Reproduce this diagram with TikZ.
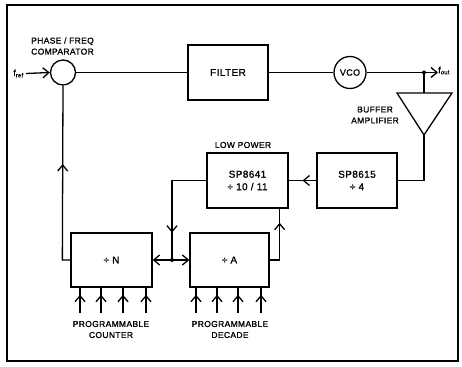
\documentclass[tikz,border=0pt]{standalone}
\usepackage{fontspec}
\setmainfont{Liberation Sans}[LetterSpace=4,FakeBold=1.2,AutoFakeBold=1.2]
\usetikzlibrary{arrows.meta,decorations.markings}
\tikzset{
  ln/.style={line width=1.3pt},
  blk/.style={draw,line width=1.3pt,rectangle,minimum width=80pt,minimum height=55pt,inner sep=0pt,font=\fontsize{10}{12.5}\selectfont,align=center},
  circ/.style={draw,line width=1.3pt,circle,inner sep=0pt,font=\fontsize{9}{10}\selectfont},
  lbl/.style={font=\fontsize{8.5}{11}\selectfont,align=center,inner sep=0pt},
  tip/.style={-{Straight Barb[length=6pt,width=10pt,line width=1.3pt]}},
  midarrow/.style={postaction={decorate},decoration={markings,mark=at position #1 with {\arrow{Straight Barb[length=6pt,width=10pt,line width=1.3pt]}}}},
  dotnode/.style={circle,fill,inner sep=0pt,minimum size=4pt}
}
\begin{document}
\begin{tikzpicture}[x=1pt,y=-1pt]
\useasboundingbox (0,0) rectangle (462,366);
\draw[line width=1.6pt] (7,5) rectangle (458,361);
% main row
\node[circ,minimum size=25pt] (cmp) at (63,72.5) {};
\node[blk] (filter) at (228,72.5) {FILTER};
\node[circ,minimum size=32pt] (vco) at (350,72.5) {VCO};
\coordinate (outj) at (424,72.5);
\node[lbl,anchor=west,font=\fontsize{9}{11}\selectfont] (fout) at (438,70.5) {f\textsubscript{out}};
\node[lbl,anchor=east,font=\fontsize{9}{11}\selectfont] (fref) at (24,73.5) {f\textsubscript{ref}};
\node[lbl] (cmplbl) at (62.5,46) {PHASE / FREQ\\COMPARATOR};
% buffer amplifier
\coordinate (bufL) at (397,93);
\coordinate (bufR) at (452,93);
\coordinate (bufT) at (424,93);
\coordinate (bufA) at (424,135);
\draw[ln,line join=miter] (bufL) -- (bufR) -- (bufA) -- cycle;
\node[lbl] (buflbl) at (375,115) {BUFFER\\AMPLIFIER};
% dividers
\node[blk] (sp15) at (357,180.5) {SP8615\\÷ 4};
\node[blk,minimum width=81pt] (sp41) at (247.5,180.5) {SP8641\\÷ 10 / 11};
\node[lbl] (lowp) at (243,145) {LOW POWER};
\node[blk,minimum width=81pt,minimum height=54pt] (divN) at (111.5,260) {÷ N};
\node[blk,minimum width=79pt,minimum height=54pt] (divA) at (229.5,260) {÷ A};
\coordinate (J) at (172,260);
\node[lbl] (cntlbl) at (111,329.5) {PROGRAMMABLE\\COUNTER};
\node[lbl] (declbl) at (230,329.5) {PROGRAMMABLE\\DECADE};
% connectors
\draw[ln,tip] (fref.east) ++(2,0) coordinate (frefs) (frefs) -- (cmp.west);
\draw[ln] (cmp.east) -- (filter.west);
\draw[ln] (filter.east) -- (vco.west);
\draw[ln] (vco.east) -- (outj);
\draw[ln,tip] (outj) -- (fout.west |- outj);
\node[dotnode] at (outj) {};
\draw[ln] (outj) -- (bufT);
\draw[ln] (bufA) |- (sp15.east);
\draw[ln,midarrow=0.5] (sp15.west) -- (sp41.east);
\draw[ln,midarrow=0.76] (sp41.west) -| (J);
\draw[ln,tip] (J) -- (divN.east);
\draw[ln,tip] (J) -- (divA.west);
\node[dotnode] at (J) {};
\draw[ln,midarrow=0.77] (divA.east) -- ++(10,0) coordinate (ae) -- (ae |- sp41.south);
\draw[ln,midarrow=0.57] (divN.west) -- ++(-8,0) coordinate (nw) -- (cmp.south);
\foreach \i/\x in {1/80,2/101,3/123,4/146}{
  \coordinate (nin\i) at (\x,313);
  \draw[ln,midarrow=0.72] (nin\i) -- (nin\i |- divN.south);
}
\foreach \i/\x in {1/196,2/217,3/238,4/261}{
  \coordinate (ain\i) at (\x,313);
  \draw[ln,midarrow=0.72] (ain\i) -- (ain\i |- divA.south);
}
\end{tikzpicture}
\end{document}
